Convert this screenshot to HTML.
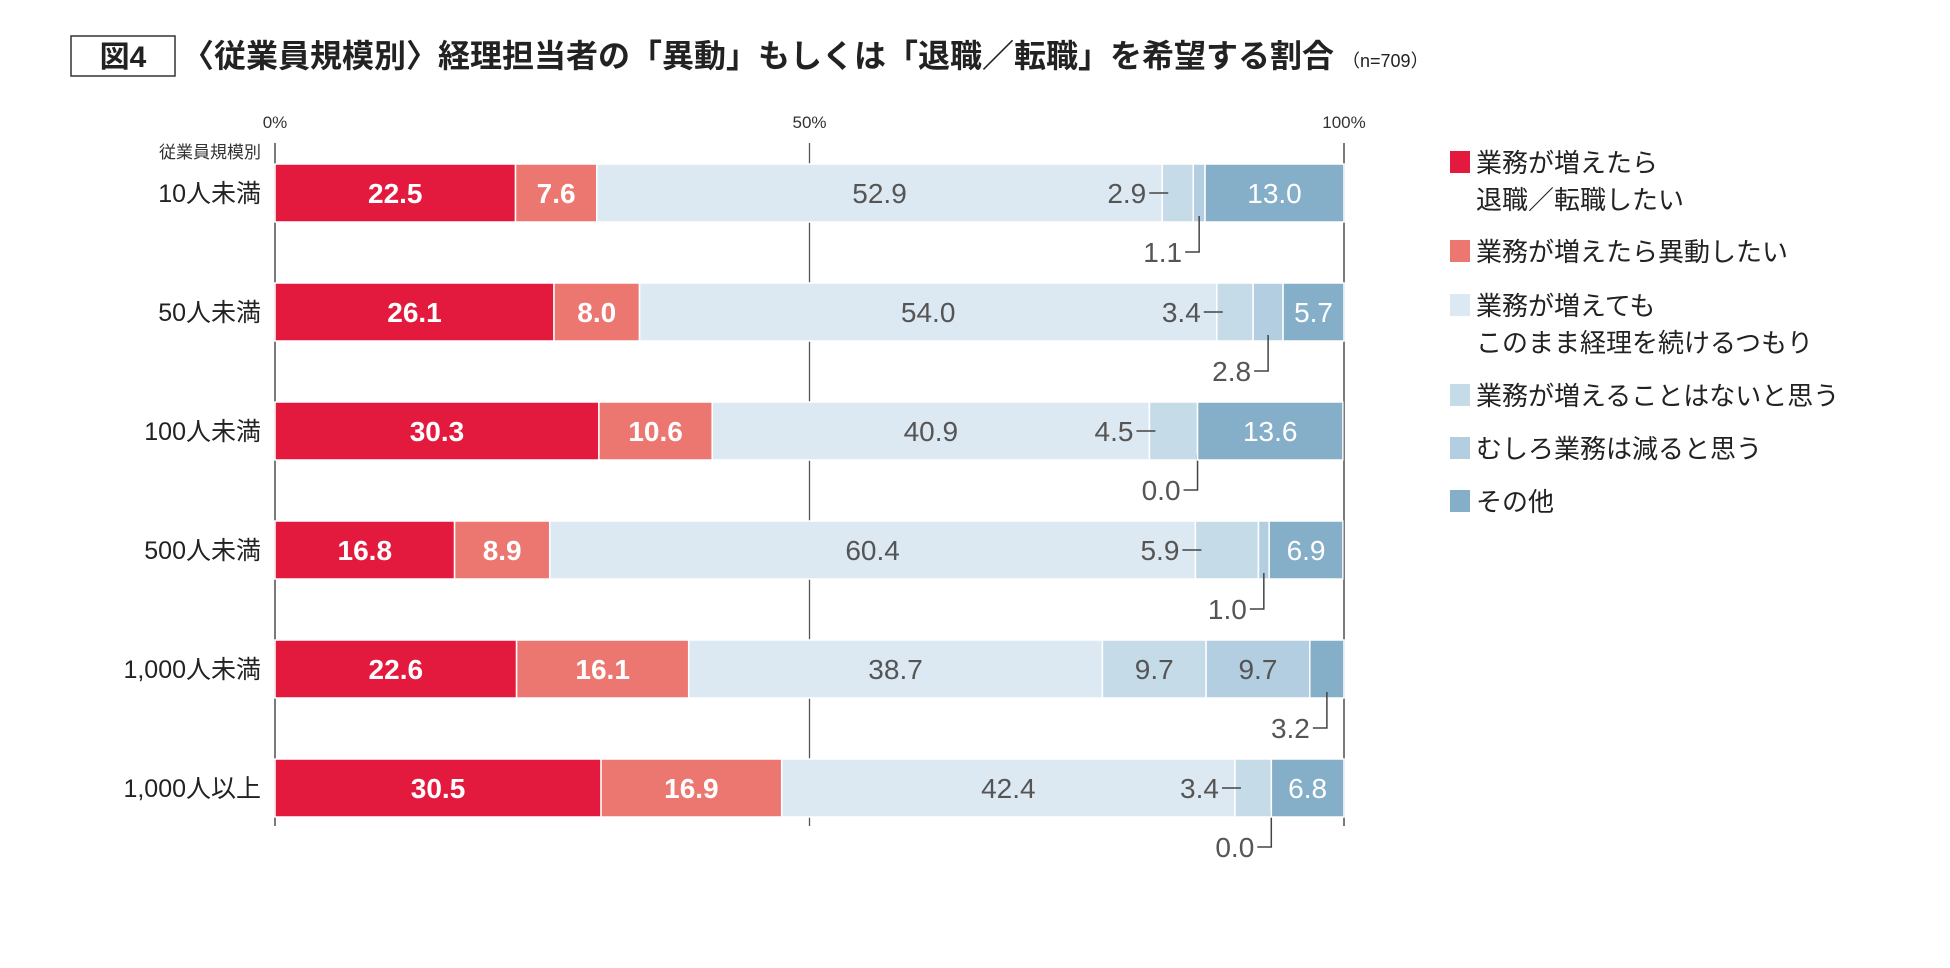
<!DOCTYPE html>
<html><head><meta charset="utf-8"><style>
body{margin:0;background:#fff;width:1950px;height:963px;overflow:hidden;font-family:"Liberation Sans","Noto Sans CJK JP",sans-serif;}
svg text{font-family:"Liberation Sans","Noto Sans CJK JP",sans-serif;}
</style></head><body>
<svg id="chart" width="1950" height="963" xmlns="http://www.w3.org/2000/svg">
<rect x="71" y="36" width="104" height="40" fill="#fff" stroke="#333" stroke-width="1.5"/>
<text x="123" y="67" text-anchor="middle" font-size="30" font-weight="bold" fill="#222">図4</text>
<text x="182" y="67" font-size="32" font-weight="bold" fill="#222">〈従業員規模別〉経理担当者の「異動」もしくは「退職／転職」を希望する割合<tspan font-size="18" font-weight="normal" dx="8">（n=709）</tspan></text>
<text x="261" y="158" text-anchor="end" font-size="17" fill="#333">従業員規模別</text>
<g id="axes"></g>
<g id="bars"></g>
<g id="legend"></g>
</svg>
<script>
const categories=["10人未満","50人未満","100人未満","500人未満","1,000人未満","1,000人以上"];
const seriesNames=["業務が増えたら\n退職／転職したい","業務が増えたら異動したい","業務が増えても\nこのまま経理を続けるつもり","業務が増えることはないと思う","むしろ業務は減ると思う","その他"];
const s1=[22.5,26.1,30.3,16.8,22.6,30.5];
const s2=[7.6,8.0,10.6,8.9,16.1,16.9];
const s3=[52.9,54.0,40.9,60.4,38.7,42.4];
const s4=[2.9,3.4,4.5,5.9,9.7,3.4];
const s5=[1.1,2.8,0.0,1.0,9.7,0.0];
const s6=[13.0,5.7,13.6,6.9,3.2,6.8];
const ticks=[0,50,100];
const colors=["#e31a3e","#ec7670","#dde9f2","#c6dbe8","#b2cee0","#85afc8"];
const textColors=["#fff","#fff","#555","#555","#555","#fff"];
const NS="http://www.w3.org/2000/svg";
const X0=275,X1=1344,Y0=164,PITCH=119,BH=58;
const xs=v=>X0+(X1-X0)*v/100;
const yRow=i=>Y0+i*PITCH;
function mk(tag,attrs,parent){const e=document.createElementNS(NS,tag);for(const k in attrs)e.setAttribute(k,attrs[k]);parent.appendChild(e);return e;}
const axes=document.getElementById('axes'),bars=document.getElementById('bars'),legend=document.getElementById('legend');
ticks.forEach(t=>{
  const l=mk('line',{x1:xs(t),x2:xs(t),y1:143,y2:826,stroke:t===50?'#555':'#333','stroke-width':1.3},axes);
  
  
  const tx=mk('text',{x:xs(t),y:128,'text-anchor':'middle','font-size':17,fill:'#333'},axes);
  tx.textContent=t+'%';
  
  
});
const series=[s1,s2,s3,s4,s5,s6];
categories.forEach((c,i)=>{
  const y=yRow(i);
  const cl=mk('text',{x:261,y:y+BH/2+9,'text-anchor':'end','font-size':25,fill:'#222'},axes);
  cl.textContent=c;
  
  
  let cum=0;
  series.forEach((s,j)=>{
    const v=s[i];const xa=xs(cum),xb=xs(cum+v);cum+=v;
    const r=mk('rect',{x:xa,y:y,width:Math.max(0,xb-xa),height:BH,fill:colors[j],stroke:'#fff','stroke-width':1.5},bars);
    
    
    const val=v.toFixed(1);
    const bold=j<2;
    let inside = j<3 || (j===3&&v>=9) || (j===4&&v>=9) || (j===5&&v>=5);
    if(inside){
      const t=mk('text',{x:(xa+xb)/2,y:y+BH/2+10,'text-anchor':'middle','font-size':28,'font-weight':bold?'bold':'normal',fill:textColors[j]},bars);
      t.textContent=val;
      
      
    } else if(j===3){
      mk('line',{x1:xa-13,x2:xa+6,y1:y+BH/2,y2:y+BH/2,stroke:'#444','stroke-width':1.5},bars);
      const t=mk('text',{x:xa-16,y:y+BH/2+10,'text-anchor':'end','font-size':28,fill:'#555'},bars);
      t.textContent=val;
      
      
    } else {
      const cx=(xa+xb)/2;
      const ly=y+BH+30;
      mk('polyline',{points:`${cx},${y+BH-6} ${cx},${ly} ${cx-14},${ly}`,fill:'none',stroke:'#444','stroke-width':1.5},bars);
      const t=mk('text',{x:cx-17,y:ly+10,'text-anchor':'end','font-size':28,fill:'#555'},bars);
      t.textContent=val;
      
      
    }
  });
});
const ly=[172,261,315,405,458,511];
seriesNames.forEach((n,j)=>{
  const r=mk('rect',{x:1450,y:ly[j]-21,width:20,height:22,fill:colors[j]},legend);
  
  
  const t=mk('text',{x:1476,y:ly[j],'font-size':26,fill:'#222'},legend);
  
  
  n.split('\n').forEach((line,k)=>{const ts=mk('tspan',{x:1476,dy:k?37:0},t);ts.textContent=line;});
});
</script>
</body></html>
